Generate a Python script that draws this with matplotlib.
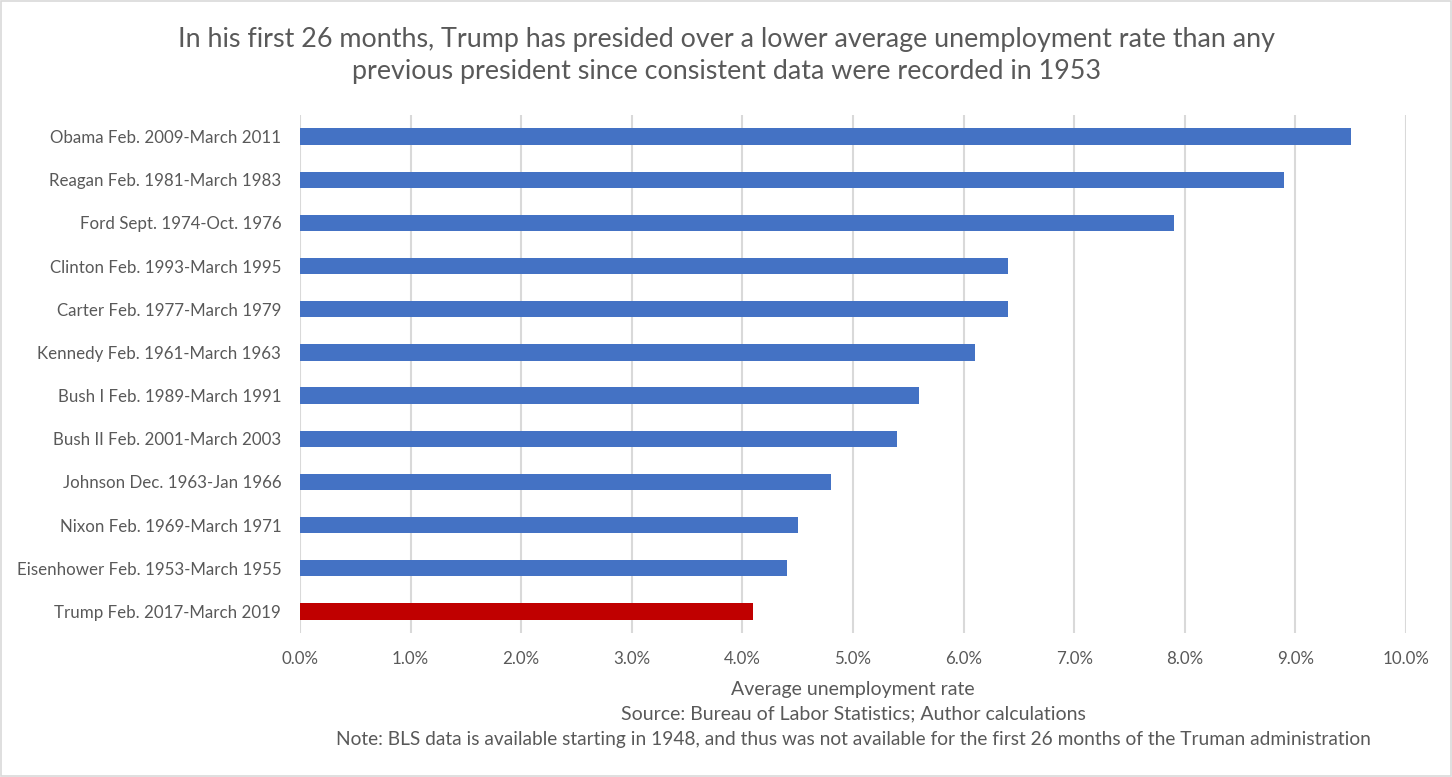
import matplotlib
matplotlib.use("Agg")
import matplotlib.pyplot as plt
from matplotlib.ticker import FuncFormatter
from matplotlib.patches import Rectangle

plt.rcParams['font.family'] = ['Lato', 'DejaVu Sans']

labels = [
    "Trump Feb. 2017-March 2019",
    "Eisenhower Feb. 1953-March 1955",
    "Nixon Feb. 1969-March 1971",
    "Johnson Dec. 1963-Jan 1966",
    "Bush II Feb. 2001-March 2003",
    "Bush I Feb. 1989-March 1991",
    "Kennedy Feb. 1961-March 1963",
    "Carter Feb. 1977-March 1979",
    "Clinton Feb. 1993-March 1995",
    "Ford Sept. 1974-Oct. 1976",
    "Reagan Feb. 1981-March 1983",
    "Obama Feb. 2009-March 2011",
]
values = [4.1, 4.4, 4.5, 4.8, 5.4, 5.6, 6.1, 6.4, 6.4, 7.9, 8.9, 9.5]
colors = ["#C00000"] + ["#4472C4"] * 11
xticks = [0, 1, 2, 3, 4, 5, 6, 7, 8, 9, 10]

title_lines = ["In his first 26 months, Trump has presided over a lower average unemployment rate than any",
               "previous president since consistent data were recorded in 1953"]
xlabel_lines = ["Average unemployment rate",
                "Source: Bureau of Labor Statistics; Author calculations",
                "Note: BLS data is available starting in 1948, and thus was not available for the first 26 months of the Truman administration"]

W, H = 1452, 777
fig = plt.figure(figsize=(W / 100, H / 100), dpi=100)
ax = fig.add_axes([300 / W, 1 - 633 / H, (1406 - 300) / W, (633 - 115) / H])

txt = "#595959"
ax.barh(range(len(values)), values, height=0.38, color=colors, zorder=3)
ax.set_xlim(0, 10)
ax.set_ylim(-0.5, len(values) - 0.5)
ax.set_xticks(xticks)
ax.xaxis.set_major_formatter(FuncFormatter(lambda v, p: f"{v:.1f}%"))
ax.set_yticks(range(len(values)))
ax.set_yticklabels(labels)
ax.grid(axis="x", color="#D9D9D9", linewidth=1.5, zorder=0)
for s in ax.spines.values():
    s.set_visible(False)
ax.tick_params(axis="x", length=0, labelsize=12.2, colors=txt, pad=13)
ax.tick_params(axis="y", length=0, labelsize=12.2, colors=txt, pad=13.5)

for y, line in zip([39, 72], title_lines):
    fig.text(727 / W, 1 - y / H, line, ha="center", va="center", fontsize=19.4, color=txt)

for y, line, fs in zip([689, 714, 739], xlabel_lines, [14, 14, 13.8]):
    fig.text(853 / W, 1 - y / H, line, ha="center", va="center", fontsize=fs, color=txt)

fig.patches.append(Rectangle((1 / W, 1 / H), 1 - 2 / W, 1 - 2 / H, transform=fig.transFigure,
                             fill=False, edgecolor="#D9D9D9", linewidth=1.2))

fig.savefig("out.png", dpi=100)
